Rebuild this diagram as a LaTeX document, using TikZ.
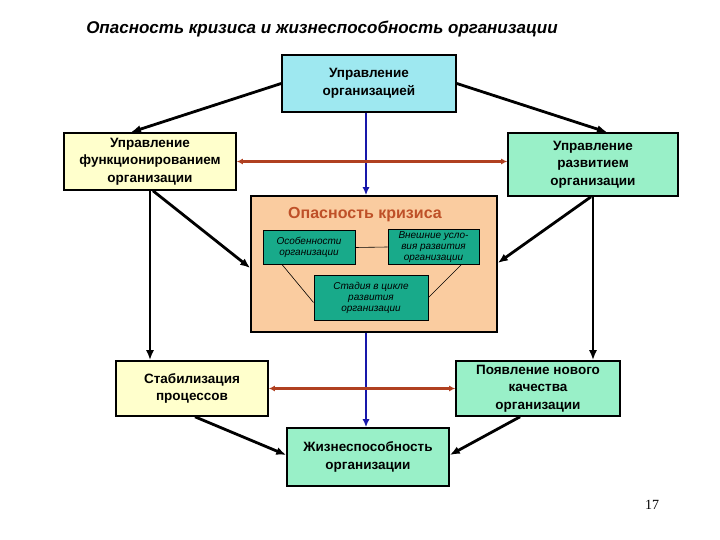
\documentclass[tikz,border=0pt]{standalone}
\usepackage{fontspec}
\setmainfont{Liberation Sans}
\newfontfamily\numfont{Liberation Serif}
\usetikzlibrary{positioning,calc,arrows.meta}

\definecolor{boxcyan}{RGB}{158,232,240}
\definecolor{boxyellow}{RGB}{255,255,204}
\definecolor{boxgreen}{RGB}{153,240,200}
\definecolor{boxpeach}{RGB}{250,204,160}
\definecolor{boxteal}{RGB}{24,170,138}
\definecolor{crisisred}{RGB}{190,80,40}
\definecolor{linkred}{RGB}{176,64,32}
\definecolor{linkblue}{RGB}{24,24,170}

\begin{document}
\begin{tikzpicture}[x=1pt, y=-1pt,
  box/.style={draw=black, line width=1.6pt, align=center, inner sep=0pt,
    font=\bfseries\fontsize{13.5}{17.5}\selectfont},
  inbox/.style={draw=black, line width=1pt, fill=boxteal, align=center, inner sep=0pt,
    font=\itshape\fontsize{10}{11}\selectfont},
  arr/.style={-{Latex[length=10pt,width=8pt]}, line width=2.8pt},
  link/.style={{Latex[length=6pt,width=6pt]}-{Latex[length=6pt,width=6pt]}, line width=2.4pt, linkred},
  ctrl/.style={-{Latex[length=8pt,width=7pt]}, line width=2pt, linkblue}]
\useasboundingbox (0,0) rectangle (720,540);

% Заголовок
\node[font=\bfseries\itshape\fontsize{17}{20}\selectfont] (title) at (322,29)
  {Опасность кризиса и жизнеспособность организации};

% --- БЛОКИ ---
\node[box, fill=boxcyan, minimum width=174, minimum height=57] (top) at (369,83.5)
  {Управление\\организацией};
\node[box, fill=boxyellow, minimum width=172, minimum height=57] (func) at (150,161.5)
  {Управление\\функционированием\\организации};
\node[box, fill=boxgreen, minimum width=170, minimum height=63] (devel) at (593,164.5)
  {Управление\\развитием\\организации};

% Центральный блок
\node[draw=black, line width=1.6pt, fill=boxpeach, minimum width=246, minimum height=136] (crisis) at (374,264) {};
\node[font=\bfseries\fontsize{16}{18}\selectfont, text=crisisred] (crisistitle) at (365,215) {Опасность кризиса};
\node[inbox, minimum width=92, minimum height=33] (feat) at (309,247.5)
  {Особенности\\организации};
\node[inbox, minimum width=91, minimum height=34] (cond) at (433.5,247)
  {Внешние усло-\\вия развития\\организации};
\node[inbox, minimum width=114, minimum height=45] (stage) at (371,297.5)
  {Стадия в цикле\\развития\\организации};

\node[box, fill=boxyellow, minimum width=152, minimum height=55] (stab) at (192,388.5)
  {Стабилизация\\процессов};
\node[box, fill=boxgreen, minimum width=164, minimum height=55] (quality) at (538,388.5)
  {Появление нового\\качества\\организации};
\node[box, fill=boxgreen, minimum width=162, minimum height=58] (vital) at (368,457)
  {Жизнеспособность\\организации};

% --- СВЯЗИ ---
% Линии внутри блока кризиса
\draw[line width=0.6pt] (feat.east) -- (cond.west);
\draw[line width=0.6pt] ($(feat.south)+(-27,0)$) -- ($(stage.west)+(0,5)$);
\draw[line width=0.6pt] ($(cond.south)+(28,0)$) -- (stage.east);

% Чёрные стрелки
\draw[arr] (top.west) -- ($(func.north)+(-19,0)$);
\draw[arr] (top.east) -- ($(devel.north)+(14,0)$);
\draw[arr] (func.south) -- (func.south |- stab.north);
\draw[arr] ($(func.south)+(3,0)$) -- ($(crisis.west)+(0,4)$);
\draw[arr] (devel.south) -- (devel.south |- quality.north);
\draw[arr] ($(devel.south)+(-2,0)$) -- ($(crisis.east)+(0,-1)$);
\draw[arr] ($(stab.south)+(3,0)$) -- ($(vital.west)+(0,-2)$);
\draw[arr] ($(quality.south)+(-18,0)$) -- ($(vital.east)+(0,-2)$);

% Синие стрелки
\draw[ctrl] ($(top.south)+(-3,0)$) -- ($(top.south |- crisis.north)+(-3,0)$);
\draw[ctrl] ($(top.south |- crisis.south)+(-3,0)$) -- ($(top.south |- vital.north)+(-3,0)$);

% Двусторонние стрелки
\draw[link] (func.east) -- (func.east -| devel.west);
\draw[link] (stab.east) -- (stab.east -| quality.west);

% Номер страницы
\node[font=\numfont\fontsize{14}{16}\selectfont] (page) at (652,505) {17};
\end{tikzpicture}
\end{document}
